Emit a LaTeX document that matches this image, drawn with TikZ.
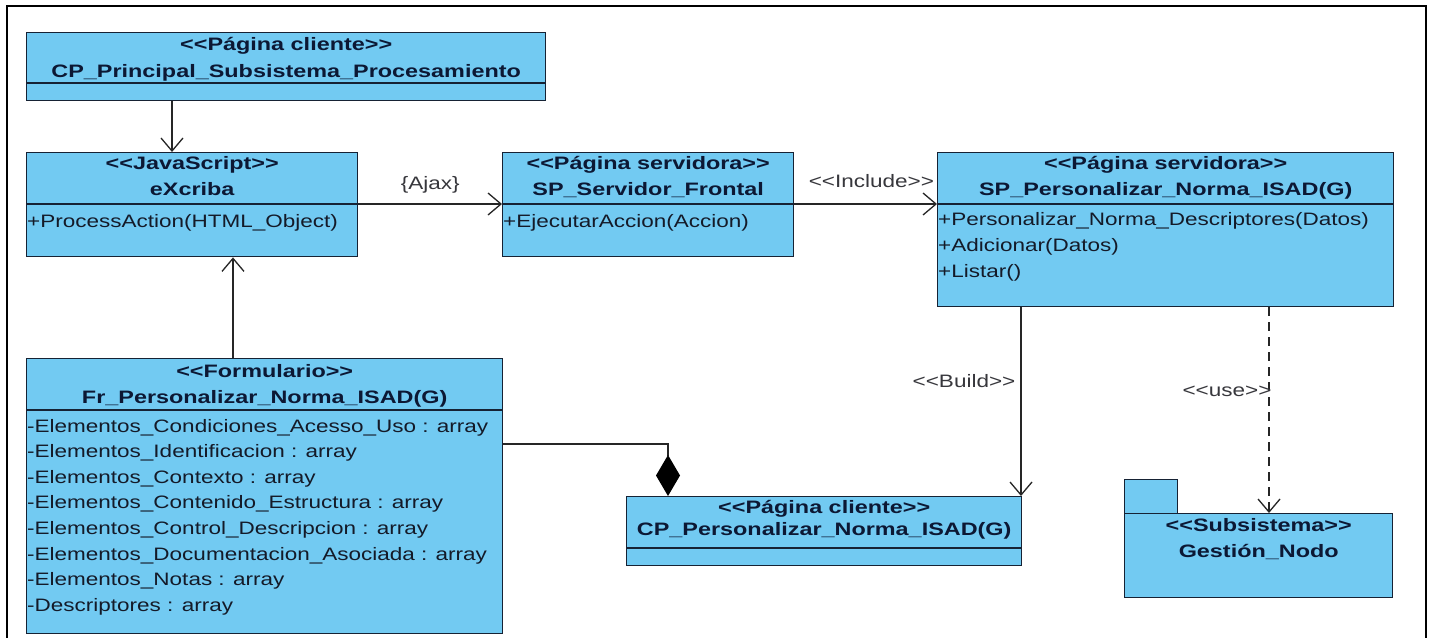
\documentclass[tikz,border=0pt]{standalone}
\usepackage{fontspec}
\setmainfont{Liberation Sans}
\newfontfamily\umlreg[FakeStretch=1.25]{Liberation Sans}
\newfontfamily\umlbold[FakeStretch=1.30]{Liberation Sans}
\usetikzlibrary{arrows.meta}

\definecolor{umlfill}{RGB}{114,202,242}
\definecolor{umlline}{RGB}{22,34,52}
\definecolor{umltext}{RGB}{12,24,52}
\definecolor{umlmember}{RGB}{20,26,40}
\definecolor{umllabel}{RGB}{55,55,60}

% guillemet-like stereotype brackets kept as two separate characters
\newcommand\umlopen{<\kern0pt<}
\newcommand\umlclose{>\kern0pt>}

\tikzset{
  classbox/.style={draw=umlline, fill=umlfill, line width=1.4pt, inner sep=0pt,
    anchor=north west, rectangle},
  sepline/.style={draw=umlline, line width=1.2pt},
  hdr/.style={font=\umlbold\bfseries\fontsize{18}{21}\selectfont, text=umltext,
    inner sep=0pt, text height=13pt, text depth=3.5pt, anchor=center},
  member/.style={font=\umlreg\fontsize{18}{21}\selectfont, text=umlmember,
    inner sep=0pt, text height=13pt, text depth=3.5pt, anchor=west},
  lbl/.style={font=\umlreg\fontsize{18}{21}\selectfont, text=umllabel,
    inner sep=0pt, text height=13pt, text depth=3.5pt},
  conn/.style={draw=black!85, line width=1.3pt},
  openhead/.style={-{Straight Barb[length=13pt,width=22pt,line width=1.3pt]}},
  usedash/.style={dash pattern=on 9pt off 6pt},
  composite/.style={{Diamond[length=41pt,width=24pt,fill=black,color=black]}-},
}

\begin{document}
\begin{tikzpicture}[x=1pt,y=-1pt]
\useasboundingbox (0,0) rectangle (1431,637);
\fill[white] (0,0) rectangle (1431,637);

% outer frame (open at the bottom)
\draw[line width=2pt, black] (7,645) -- (7,6) -- (1426,6) -- (1426,645);

% ---------- classes ----------
\node[classbox, minimum width=519pt, minimum height=68pt] (cpp) at (26,32) {};
\draw[sepline] (cpp.west |- 0,83) -- (cpp.east |- 0,83);
\node[hdr] (cpp-st) at (cpp.north |- 0,46) {\umlopen Página cliente\umlclose};
\node[hdr] (cpp-nm) at (cpp.north |- 0,73) {CP\_Principal\_Subsistema\_Procesamiento};

\node[classbox, minimum width=331pt, minimum height=104pt] (exc) at (26,152) {};
\draw[sepline] (exc.west |- 0,204) -- (exc.east |- 0,204);
\node[hdr] (exc-st) at (exc.north |- 0,165) {\umlopen JavaScript\umlclose};
\node[hdr] (exc-nm) at (exc.north |- 0,191) {eXcriba};
\node[member] (exc-op1) at (27,223) {+ProcessAction(HTML\_Object)};

\node[classbox, minimum width=291pt, minimum height=104pt] (srv) at (502,152) {};
\draw[sepline] (srv.west |- 0,204) -- (srv.east |- 0,204);
\node[hdr] (srv-st) at (srv.north |- 0,165) {\umlopen Página servidora\umlclose};
\node[hdr] (srv-nm) at (srv.north |- 0,191) {SP\_Servidor\_Frontal};
\node[member] (srv-op1) at (503,223) {+EjecutarAccion(Accion)};

\node[classbox, minimum width=456pt, minimum height=154pt] (sp) at (937,152) {};
\draw[sepline] (sp.west |- 0,204) -- (sp.east |- 0,204);
\node[hdr] (sp-st) at (sp.north |- 0,165) {\umlopen Página servidora\umlclose};
\node[hdr] (sp-nm) at (sp.north |- 0,191) {SP\_Personalizar\_Norma\_ISAD(G)};
\node[member] (sp-op1) at (938,221) {+Personalizar\_Norma\_Descriptores(Datos)};
\node[member] (sp-op2) at (938,247) {+Adicionar(Datos)};
\node[member] (sp-op3) at (938,273) {+Listar()};

\node[classbox, minimum width=476pt, minimum height=275pt] (frm) at (26,358) {};
\draw[sepline] (frm.west |- 0,410) -- (frm.east |- 0,410);
\node[hdr] (frm-st) at (frm.north |- 0,373) {\umlopen Formulario\umlclose};
\node[hdr] (frm-nm) at (frm.north |- 0,399) {Fr\_Personalizar\_Norma\_ISAD(G)};
\node[member] (frm-a1) at (27,428) {-Elementos\_Condiciones\_Acesso\_Uso : array};
\node[member] (frm-a2) at (27,453) {-Elementos\_Identificacion : array};
\node[member] (frm-a3) at (27,479) {-Elementos\_Contexto : array};
\node[member] (frm-a4) at (27,504) {-Elementos\_Contenido\_Estructura : array};
\node[member] (frm-a5) at (27,530) {-Elementos\_Control\_Descripcion : array};
\node[member] (frm-a6) at (27,556) {-Elementos\_Documentacion\_Asociada : array};
\node[member] (frm-a7) at (27,581) {-Elementos\_Notas : array};
\node[member] (frm-a8) at (27,607) {-Descriptores : array};

\node[classbox, minimum width=395pt, minimum height=69pt] (cpx) at (626,496) {};
\draw[sepline] (cpx.west |- 0,548) -- (cpx.east |- 0,548);
\node[hdr] (cpx-st) at (cpx.north |- 0,509) {\umlopen Página cliente\umlclose};
\node[hdr] (cpx-nm) at (cpx.north |- 0,531) {CP\_Personalizar\_Norma\_ISAD(G)};

% ---------- package ----------
\node[classbox, minimum width=53pt, minimum height=34pt] (pkg-tab) at (1124,479) {};
\node[classbox, minimum width=268pt, minimum height=84pt] (pkg) at (1124,513) {};
\node[hdr] (pkg-st) at (pkg.north |- 0,527) {\umlopen Subsistema\umlclose};
\node[hdr] (pkg-nm) at (pkg.north |- 0,553) {Gestión\_Nodo};

% ---------- connectors ----------
\draw[conn, openhead] (cpp.south -| 172,0) -- (exc.north -| 172,0);
\draw[conn, openhead] (frm.north -| 233,0) -- (exc.south -| 233,0);
\draw[conn, openhead] (exc.east |- 0,204) --
  node[lbl, midway, yshift=19pt] (ajax) {\{Ajax\}} (srv.west |- 0,204);
\draw[conn, openhead] (srv.east |- 0,204) --
  node[lbl, pos=0.54, yshift=21pt] (incl) {\umlopen Include\umlclose} (sp.west |- 0,204);
\draw[conn, openhead] (sp.south -| 1021,0) --
  node[lbl, pos=0.4, xshift=-57pt] (build) {\umlopen Build\umlclose} (cpx.north -| 1021,0);
\draw[conn, usedash, openhead] (sp.south -| 1269,0) --
  node[lbl, pos=0.41, xshift=-42pt] (use) {\umlopen use\umlclose} (pkg.north -| 1269,0);
\draw[conn, composite] (cpx.north -| 668,0) -- (668,444) -- (frm.east |- 0,444);
\end{tikzpicture}
\end{document}
